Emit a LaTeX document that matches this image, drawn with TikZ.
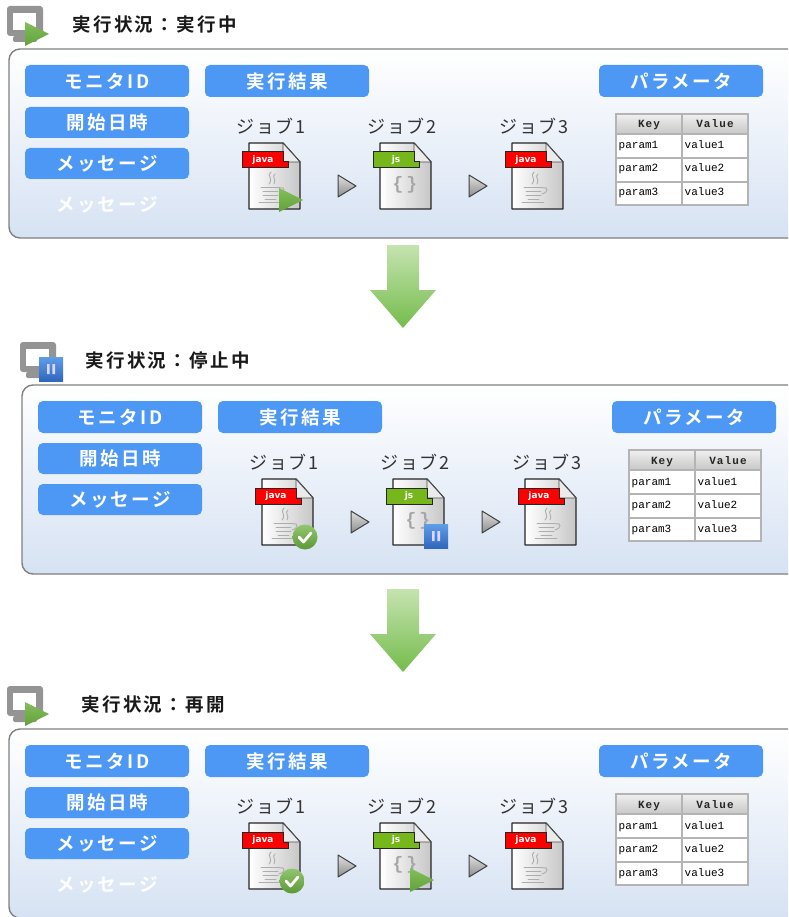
\documentclass[tikz,border=0pt]{standalone}
\usepackage{fontspec}
\newfontfamily\jpb[LetterSpace=13]{Noto Sans CJK JP Bold}
\newfontfamily\jpr[LetterSpace=9]{Noto Sans CJK JP}
\newfontfamily\tblr{Liberation Mono}
\newfontfamily\tblb[LetterSpace=10]{Liberation Mono Bold}
\newfontfamily\tagf{DejaVu Sans Bold}
\usetikzlibrary{calc}
\definecolor{btn}{HTML}{4D97F5}
\definecolor{gridc}{HTML}{B4B4B4}
\definecolor{panelb}{HTML}{808080}
\definecolor{panelbot}{HTML}{D6E2F3}
\definecolor{playg}{HTML}{6DB33F}
\definecolor{jsg}{HTML}{76B81C}
\definecolor{pauset}{HTML}{5F9DE8}
\definecolor{pauseb}{HTML}{2F66BE}
\definecolor{arrowt}{HTML}{C6E3B0}
\definecolor{arrowb}{HTML}{74BC4C}
\tikzset{
  btnbox/.style={fill=btn,rounded corners=5pt,inner sep=0pt,text=white,font=\fontsize{18.5}{18}\jpb,minimum width=164pt,minimum height=32pt},
  ghostbox/.style={inner sep=0pt,text=white,font=\fontsize{18.5}{18}\jpb,minimum width=164pt,minimum height=32pt},
  joblabel/.style={inner sep=0pt,font=\fontsize{18}{18}\jpr,text=black!80},
  titlelabel/.style={inner sep=0pt,anchor=west,font=\fontsize{18.5}{18}\jpb,text=black!90},
  tagtext/.style={inner sep=0pt,text=white,font=\fontsize{9}{9}\tagf},
  tblbody/.style={inner sep=0pt,anchor=base west,font=\fontsize{11}{10}\tblr,text=black},
  tblhead/.style={inner sep=0pt,anchor=base,font=\fontsize{11}{10}\tblb,text=black!85},
  greyicon/.style={draw=black!32,line width=.9pt,line cap=round},
  filepic/.pic={
    \path[fill=white,left color=white,right color=black!22,draw=black!85,line width=1.4pt,line join=round]
      (1,0)--(35,0)--(52,19)--(52,66)--(1,66)--cycle;
    \path[fill=black!8,draw=black!70,line width=.8pt,line join=round] (35,0)--(35,19)--(52,19)--cycle;
  },
  javaicon/.pic={
    \pic {filepic};
    \path[fill=red,draw=black!85,line width=1pt] (-6,9)--(35,9)--(35,19)--(40,19)--(40,25)--(-6,25)--cycle;
    \node[tagtext] (tag) at (15,17) {java};
    \draw[greyicon] (23,29) .. controls (18,33) and (26,35) .. (21,41);
    \draw[greyicon] (27,31) .. controls (23,34) and (29,36) .. (26,41);
    \draw[greyicon] (13,44) -- (32,44);
    \draw[greyicon] (15,48) -- (30,48);
    \draw[greyicon] (15,52) -- (30,52);
    \draw[greyicon] (17,56) -- (28,56);
    \draw[greyicon] (11,59) -- (33,59);
    \draw[greyicon] (32,45) .. controls (37,43) and (38,49) .. (31,51);
  },
  jsicon/.pic={
    \pic {filepic};
    \path[fill=jsg,draw=black!85,line width=1pt] (-6,9)--(35,9)--(35,19)--(40,19)--(40,25)--(-6,25)--cycle;
    \node[tagtext] (tag) at (17,17) {js};
    \node[inner sep=0pt,text=black!35,font=\fontsize{18}{18}\tblb] (braces) at (26,42) {\{\,\}};
  },
  nobadge/.pic={},
  playbadge/.pic={
    \path[top color=playg!85!white,bottom color=playg!90!black] (31,45)--(55,57)--(31,69)--cycle;
  },
  checkbadge/.pic={
    \path[top color=playg!75!white,bottom color=playg!85!black] (44,58) circle (12.5);
    \draw[white,line width=2.8pt,line cap=round,line join=round] (38,58)--(42.5,63)--(50,54);
  },
  pausebadge/.pic={
    \path[top color=pauset,bottom color=pauseb] (32,45) rectangle (56,69);
    \fill[white!85!blue] (40,52) rectangle (42.6,62) (45.4,52) rectangle (48,62);
  },
  monitorpic/.pic={
    \fill[black!42,rounded corners=2pt] (6,30) rectangle (30,36);
    \fill[black!42,rounded corners=3pt] (0,0) rectangle (36,30);
    \fill[white] (6,7) rectangle (29,24);
  },
}
\newcommand\fileicon[5]{\pic (#1) at (#2,#3) {#4icon};\pic (#1b) at (#2,#3) {#5badge};}
\newcommand\stepmark[2]{\path[top color=black!12,bottom color=black!45,draw=black!75,line width=1pt,line join=round] (#1,#2) -- ++(18,11) -- ++(-18,11) -- cycle;}
% #1 prefix, #2 dx, #3 dy, #4 ghost box text, #5 job1 badge, #6 job2 badge
\newcommand\statuspanel[6]{%
\begin{scope}[shift={(#2,#3)},name prefix=#1]
  \path[fill=white,top color=white,bottom color=panelbot,draw=panelb,line width=1.4pt,rounded corners=11pt] (9,49) rectangle (830,238);
  \node[btnbox] (id) at (107,81) {モニタID};
  \node[btnbox,minimum height=31pt] (start) at (107,122.5) {開始日時};
  \node[btnbox,minimum height=31pt] (msg) at (107,163.5) {メッセージ};
  \node[ghostbox] (ghost) at (107,204.5) {#4};
  \node[btnbox] (res) at (287,81) {実行結果};
  \node[btnbox] (par) at (681,81) {パラメータ};
  \node[joblabel] (j1) at (271,126) {ジョブ1};
  \node[joblabel] (j2) at (402,126) {ジョブ2};
  \node[joblabel] (j3) at (534,126) {ジョブ3};
  \fileicon{f1}{248}{143}{java}{#5}
  \fileicon{f2}{379}{143}{js}{#6}
  \fileicon{f3}{511}{143}{java}{no}
  \stepmark{338}{175}
  \stepmark{469}{175}
  \fill[white] (616,114) rectangle (748,205);
  \path[top color=black!6,bottom color=black!22] (616,114) rectangle (748,134);
  \draw[gridc,line width=1.1pt] (616,114) rectangle (748,205) (682,114)--(682,205) (616,134)--(748,134) (616,158)--(748,158) (616,182)--(748,182);
  \node[tblhead] (hk) at (649,128) {Key};
  \node[tblhead] (hv) at (715,128) {Value};
  \node[tblbody] (p1) at (618.5,149) {param1};
  \node[tblbody] (v1) at (684.5,149) {value1};
  \node[tblbody] (p2) at (618.5,172) {param2};
  \node[tblbody] (v2) at (684.5,172) {value2};
  \node[tblbody] (p3) at (618.5,196) {param3};
  \node[tblbody] (v3) at (684.5,196) {value3};
\end{scope}}
\newcommand\bigarrow[1]{\path[top color=arrowt,bottom color=arrowb] (387,#1)--(419,#1)--(419,#1+45)--(436,#1+45)--(403,#1+83)--(370,#1+45)--(387,#1+45)--cycle;}
\begin{document}
\begin{tikzpicture}[x=1pt,y=-1pt]
\useasboundingbox (0,0) rectangle (788,917);
\clip (0,0) rectangle (788,917);
\fill[white] (0,0) rectangle (788,917);
% first state
\pic (m1) at (7,6) {monitorpic};
\path[top color=playg!85!white,bottom color=playg!90!black] (25,22)--(49,34)--(25,46)--cycle;
\node[titlelabel] (t1) at (72,24) {実行状況：実行中};
\statuspanel{a}{0}{0}{メッセージ}{play}{no}
\bigarrow{245}
% second state
\pic (m2) at (20,342) {monitorpic};
\path[top color=pauset,bottom color=pauseb] (39,357) rectangle (63,381);
\fill[white!85!blue] (47,364) rectangle (49.6,374) (52.4,364) rectangle (55,374);
\node[titlelabel] (t2) at (85,360) {実行状況：停止中};
\statuspanel{b}{13}{336}{}{check}{pause}
\bigarrow{589}
% third state
\pic (m3) at (7,686) {monitorpic};
\path[top color=playg!85!white,bottom color=playg!90!black] (25,702)--(49,714)--(25,726)--cycle;
\node[titlelabel] (t3) at (81,704) {実行状況：再開};
\statuspanel{c}{0}{680}{メッセージ}{check}{play}
\end{tikzpicture}
\end{document}
